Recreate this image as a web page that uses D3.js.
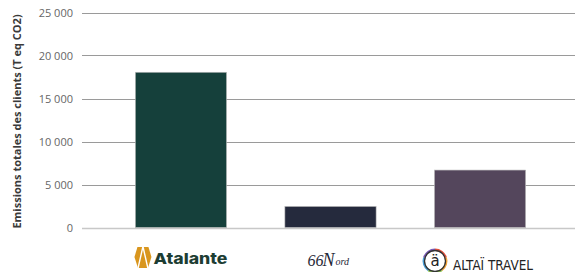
<!DOCTYPE html>
<html><head><meta charset="utf-8">
<script src="https://cdn.jsdelivr.net/npm/d3@7"></script>
<style>body{margin:0;background:#fff}svg{display:block}</style>
</head><body>
<svg id="c" width="575" height="272"></svg>
<script>
const categories = ["Atalante", "66Nord", "Altaï Travel"];
const values = [18050, 2450, 6680];
const barColors = ["#15403b", "#252a3d", "#54465c"];
const yTicks = [0, 5000, 10000, 15000, 20000, 25000];
const yTitle = "Emissions totales des clients (T eq CO2)";

const svg = d3.select("#c");
const loc = d3.formatLocale({decimal: ",", thousands: " ", grouping: [3], currency: ["", "€"]});
const fmt = loc.format(",d");

const y = d3.scaleLinear().domain([0, 25000]).range([227.5, 12.5]);
const x = d3.scaleBand().domain(categories).range([83, 578]).paddingInner(0.39).paddingOuter(0.35);

// axis labels
const yAxis = d3.axisLeft(y).tickValues(yTicks).tickFormat(fmt).tickSize(0).tickPadding(0);
const g = svg.append("g").attr("transform", "translate(73,0)").call(yAxis);
g.select(".domain").remove();
g.selectAll("text").attr("font-family", "Open Sans").attr("font-size", 11).attr("fill", "#666").attr("dy", "0.35em");

// grid
svg.append("g").selectAll("line").data(yTicks).join("line")
  .attr("x1", 82).attr("x2", 575)
  .attr("y1", d => Math.round(y(d)) + 0.5).attr("y2", d => Math.round(y(d)) + 0.5)
  .attr("stroke", d => d === 0 ? "#c8c8c8" : "#9a9a9a")
  .attr("stroke-width", d => d === 0 ? 1.5 : 1);

// bars
svg.append("g").selectAll("rect").data(categories).join("rect")
  .attr("x", d => x(d)).attr("width", x.bandwidth())
  .attr("y", (d, i) => y(values[i])).attr("height", (d, i) => y(0) - y(values[i]))
  .attr("fill", (d, i) => barColors[i])
  .attr("stroke", "#bdbdbd").attr("stroke-width", 0.6);

// y title
svg.append("text").attr("transform", "translate(21,121.5) rotate(-90)")
  .attr("text-anchor", "middle").attr("font-family", "Open Sans").attr("font-weight", 700)
  .attr("font-size", 11).attr("fill", "#3a3a3a").text(yTitle);

// logos
const cx = categories.map(c => x(c) + x.bandwidth() / 2);

// Atalante
const ox = cx[0] - 46.5;
const a = svg.append("g");
a.append("path").attr("d", `M${ox+3},247 L${ox+14},247 L${ox+17},257 L${ox+13.5},268 L${ox+3.5},268 L${ox},257 Z`).attr("fill", "#d9961e");
a.append("path").attr("d", `M${ox+8.5},246.5 L${ox+3.5},268.5 M${ox+8.5},246.5 L${ox+13.5},268.5`)
  .attr("stroke", "#fff").attr("stroke-width", 1.4).attr("fill", "none");
a.append("text").attr("x", ox + 19).attr("y", 264).attr("font-family", "Inter")
  .attr("font-weight", 800).attr("font-size", 15).attr("fill", "#1d3d33")
  .attr("textLength", 74).attr("lengthAdjust", "spacingAndGlyphs").text("Atalante");

// 66Nord
const n = svg.append("g").attr("fill", "#262838").attr("font-style", "italic").attr("font-family", "Liberation Serif");
n.append("text").attr("x", cx[1] - 23).attr("y", 266).attr("font-size", 16).text("66");
n.append("text").attr("x", cx[1] - 8).attr("y", 266).attr("font-size", 18).text("N");
n.append("text").attr("x", cx[1] + 5).attr("y", 265).attr("font-size", 10).text("ord");

// Altaï Travel
const rc = [435, 261];
const t = svg.append("g");
const ringColors = ["#e5533d", "#f2a33a", "#8cc152", "#4a9fd8", "#7a5cb8"];
const arc = d3.arc().innerRadius(10).outerRadius(12.5);
const pie = d3.pie().value(1).sort(null);
t.append("g").attr("transform", `translate(${rc[0]},${rc[1]})`).selectAll("path")
  .data(pie(ringColors)).join("path").attr("d", arc).attr("fill", d => d.data);
t.append("circle").attr("cx", rc[0]).attr("cy", rc[1]).attr("r", 10.5).attr("fill", "none").attr("stroke", "#333").attr("stroke-width", 1.3);
t.append("text").attr("x", rc[0]).attr("y", rc[1] + 5).attr("text-anchor", "middle")
  .attr("font-family", "DejaVu Sans").attr("font-size", 15).attr("fill", "#222").text("ä");
t.append("text").attr("x", 453).attr("y", 269.5).attr("font-family", "DejaVu Sans Condensed")
  .attr("font-size", 14.5).attr("fill", "#222").attr("textLength", 80).attr("lengthAdjust", "spacingAndGlyphs").text("ALTAÏ TRAVEL");
</script>
</body></html>
